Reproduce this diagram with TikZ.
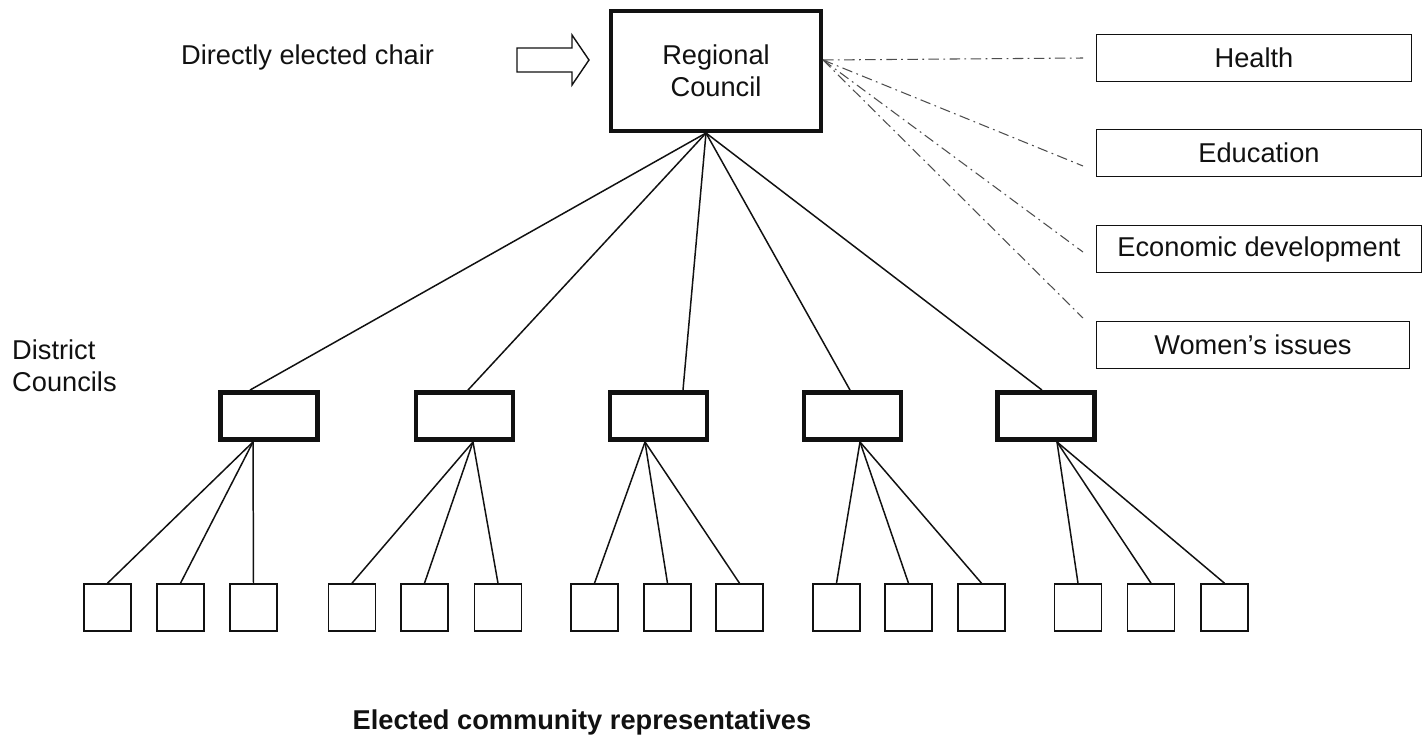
\documentclass[tikz,border=0pt]{standalone}
\usepackage{fontspec}
\setmainfont{Liberation Sans}
\usetikzlibrary{positioning}
\definecolor{orgInk}{HTML}{111111}
\definecolor{orgGray}{HTML}{4D4D4D}
\tikzset{
  every picture/.style={font=\fontsize{15.5}{18}\selectfont, text=orgInk},
  council box/.style={draw=orgInk, line width=2.3pt, fill=white, align=center,
    minimum width=4.2cm, minimum height=2.4cm, inner sep=0pt},
  district box/.style={draw=orgInk, line width=2.8pt, fill=white,
    minimum width=1.94cm, minimum height=0.94cm, inner sep=0pt},
  rep box/.style={draw=orgInk, line width=0.9pt, fill=white,
    minimum size=0.94cm, inner sep=0pt},
  duty box/.style={draw=orgInk, line width=0.6pt, fill=white, anchor=west,
    minimum height=0.93cm, inner sep=0pt},
  org link/.style={draw=orgInk, line width=0.85pt},
  duty link/.style={draw=orgGray, line width=0.6pt,
    dash pattern=on 6pt off 2.5pt on 1pt off 2.5pt},
  chair arrow/.style={draw=orgInk, line width=0.8pt, fill=white}
}

\begin{document}
\begin{tikzpicture}[x=0.02cm,y=-0.02cm]
  \useasboundingbox (0,0) rectangle (1428,751);
  % top level
  \node[council box] (rc) at (716,71) {Regional\\Council};
  \node[anchor=west] (chair) at (175,57) {Directly elected chair};
  \draw[chair arrow] (517,48) -- (572,48) -- (572,35) -- (589,60) -- (572,85) -- (572,72) -- (517,72) -- cycle;
  % portfolios
  \node[duty box, minimum width=6.3cm] (health) at (1096,58) {Health};
  \node[duty box, minimum width=6.5cm] (edu) at (1096,153) {Education};
  \node[duty box, minimum width=6.5cm] (econ) at (1096,249) {Economic development};
  \node[duty box, minimum width=6.26cm] (women) at (1096,345) {Women’s issues};
  \coordinate (rcport) at ([yshift=0.22cm]rc.east);
  \draw[duty link] (rcport) -- ([xshift=-0.26cm]health.west);
  \draw[duty link] (rcport) -- ([shift={(-0.26cm,-0.26cm)}]edu.west);
  \draw[duty link] (rcport) -- ([shift={(-0.26cm,-0.06cm)}]econ.west);
  \draw[duty link] (rcport) -- ([shift={(-0.26cm,0.54cm)}]women.west);
  % district councils
  \node[anchor=west, align=left] (dclabel) at (6,366) {District\\Councils};
  \node[district box] (d1) at (269,416) {};
  \node[district box] (d2) at (464.5,416) {};
  \node[district box] (d3) at (658.5,416) {};
  \node[district box] (d4) at (852.5,416) {};
  \node[district box] (d5) at (1046,416) {};
  \coordinate (rcfoot) at ([xshift=-0.2cm]rc.south);
  \draw[org link] (rcfoot) -- ([xshift=-0.38cm]d1.north);
  \draw[org link] (rcfoot) -- ([xshift=0.07cm]d2.north);
  \draw[org link] (rcfoot) -- ([xshift=0.49cm]d3.north);
  \draw[org link] (rcfoot) -- ([xshift=-0.05cm]d4.north);
  \draw[org link] (rcfoot) -- ([xshift=-0.08cm]d5.north);
  % community representatives
  \node[rep box] (r1a) at (107.5,607.5) {};
  \node[rep box] (r1b) at (180.5,607.5) {};
  \node[rep box] (r1c) at (253.5,607.5) {};
  \node[rep box] (r2a) at (352,607.5) {};
  \node[rep box] (r2b) at (424.5,607.5) {};
  \node[rep box] (r2c) at (498,607.5) {};
  \node[rep box] (r3a) at (594.5,607.5) {};
  \node[rep box] (r3b) at (667.5,607.5) {};
  \node[rep box] (r3c) at (739.5,607.5) {};
  \node[rep box] (r4a) at (836.5,607.5) {};
  \node[rep box] (r4b) at (908.5,607.5) {};
  \node[rep box] (r4c) at (981.5,607.5) {};
  \node[rep box] (r5a) at (1078,607.5) {};
  \node[rep box] (r5b) at (1151,607.5) {};
  \node[rep box] (r5c) at (1224.5,607.5) {};
  \draw[org link] ([xshift=-0.32cm]d1.south) -- (r1a.north);
  \draw[org link] ([xshift=-0.32cm]d1.south) -- (r1b.north);
  \draw[org link] ([xshift=-0.32cm]d1.south) -- (r1c.north);
  \draw[org link] ([xshift=0.17cm]d2.south) -- (r2a.north);
  \draw[org link] ([xshift=0.17cm]d2.south) -- (r2b.north);
  \draw[org link] ([xshift=0.17cm]d2.south) -- (r2c.north);
  \draw[org link] ([xshift=-0.27cm]d3.south) -- (r3a.north);
  \draw[org link] ([xshift=-0.27cm]d3.south) -- (r3b.north);
  \draw[org link] ([xshift=-0.27cm]d3.south) -- (r3c.north);
  \draw[org link] ([xshift=0.15cm]d4.south) -- (r4a.north);
  \draw[org link] ([xshift=0.15cm]d4.south) -- (r4b.north);
  \draw[org link] ([xshift=0.15cm]d4.south) -- (r4c.north);
  \draw[org link] ([xshift=0.22cm]d5.south) -- (r5a.north);
  \draw[org link] ([xshift=0.22cm]d5.south) -- (r5b.north);
  \draw[org link] ([xshift=0.22cm]d5.south) -- (r5c.north);
  \node[font=\fontsize{15.5}{18}\selectfont\bfseries] (reps) at (582,722) {Elected community representatives};
\end{tikzpicture}
\end{document}
